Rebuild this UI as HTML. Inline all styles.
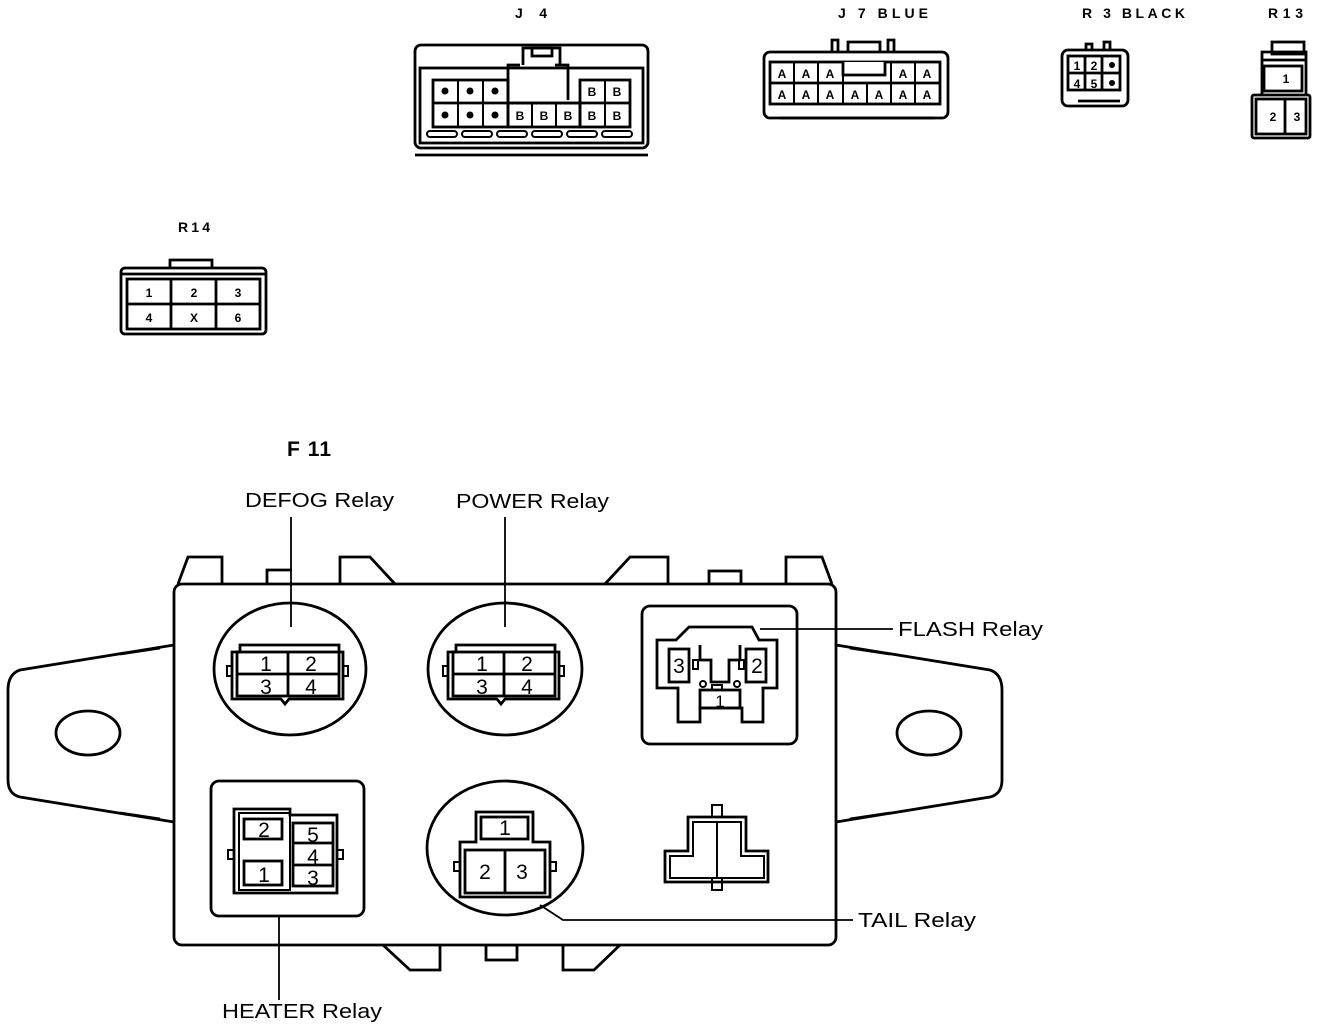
<!DOCTYPE html>
<html><head><meta charset="utf-8"><style>
html,body{margin:0;padding:0;background:#fff}
svg{display:block}
.t{font-family:"Liberation Sans",sans-serif;fill:#000}
.b{font-weight:bold;font-size:14px}
.p{font-family:"Liberation Sans",sans-serif;font-weight:bold;font-size:12px;text-anchor:middle}
.n{font-family:"Liberation Sans",sans-serif;font-size:21px;text-anchor:middle}
</style></head><body>
<svg width="1344" height="1028" viewBox="0 0 1344 1028" xmlns="http://www.w3.org/2000/svg" fill="none" stroke="#000" stroke-width="2.8">
<!-- labels top -->
<text class="t b" x="515" y="18" stroke="none" textLength="32" lengthAdjust="spacing">J 4</text>
<text class="t b" x="838" y="18" stroke="none" textLength="90" lengthAdjust="spacing">J 7 BLUE</text>
<text class="t b" x="1082" y="18" stroke="none" textLength="103" lengthAdjust="spacing">R 3 BLACK</text>
<text class="t b" x="1268" y="18" stroke="none" textLength="35" lengthAdjust="spacing">R13</text>
<text class="t b" x="178" y="232" stroke="none" textLength="32" lengthAdjust="spacing">R14</text>

<!-- J4 -->
<g>
<rect x="415" y="45" width="233" height="103" rx="6"/>
<rect x="420" y="68" width="223" height="75"/>
<path d="M523 65 V48 H560 V65"/><rect x="532" y="48" width="20" height="8"/>
<path d="M508 100 V65 H520 M555 65 H568 V100" />
<line x1="415" y1="155" x2="648" y2="155"/>
<rect x="433" y="80" width="75" height="47"/><line x1="433" y1="103" x2="630" y2="103"/>
<rect x="580" y="80" width="50" height="47"/><rect x="508" y="103" width="72" height="24"/>
<g stroke-width="2">
<line x1="458" y1="80" x2="458" y2="127"/><line x1="483" y1="80" x2="483" y2="127"/>
<line x1="532" y1="103" x2="532" y2="127"/><line x1="556" y1="103" x2="556" y2="127"/><line x1="605" y1="80" x2="605" y2="127"/>
</g>
<g fill="#000" stroke="none">
<circle cx="445" cy="91" r="3.5"/><circle cx="470" cy="91" r="3.5"/><circle cx="495" cy="91" r="3.5"/>
<circle cx="445" cy="115" r="3.5"/><circle cx="470" cy="115" r="3.5"/><circle cx="495" cy="115" r="3.5"/>
</g>
<g stroke="none" fill="#000">
<text class="p" x="592" y="96">B</text><text class="p" x="617" y="96">B</text>
<text class="p" x="520" y="120">B</text><text class="p" x="544" y="120">B</text><text class="p" x="568" y="120">B</text><text class="p" x="592" y="120">B</text><text class="p" x="617" y="120">B</text>
</g>
<g stroke-width="2">
<rect x="427" y="131" width="30" height="6" rx="3"/><rect x="462" y="131" width="30" height="6" rx="3"/><rect x="497" y="131" width="30" height="6" rx="3"/><rect x="532" y="131" width="30" height="6" rx="3"/><rect x="567" y="131" width="30" height="6" rx="3"/><rect x="602" y="131" width="30" height="6" rx="3"/>
</g>
</g>

<!-- J7 -->
<g>
<rect x="764" y="52" width="184" height="66" rx="6"/>
<path d="M832 52 V40 H838 V52 M848 52 V42 H880 V52 M888 52 V40 H894 V52"/>
<rect x="770" y="62" width="170" height="42"/>
<line x1="770" y1="83" x2="940" y2="83"/>
<path d="M843 62 V75 H885 V62" fill="#fff"/>
<g stroke-width="2">
<line x1="794" y1="62" x2="794" y2="104"/><line x1="818" y1="62" x2="818" y2="104"/><line x1="843" y1="75" x2="843" y2="104"/><line x1="867" y1="83" x2="867" y2="104"/><line x1="891" y1="62" x2="891" y2="104"/><line x1="915" y1="62" x2="915" y2="104"/>
</g>
<line x1="780" y1="118" x2="935" y2="118"/>
<g stroke="none" fill="#000">
<text class="p" x="782" y="78">A</text><text class="p" x="806" y="78">A</text><text class="p" x="830" y="78">A</text><text class="p" x="903" y="78">A</text><text class="p" x="927" y="78">A</text>
<text class="p" x="782" y="99">A</text><text class="p" x="806" y="99">A</text><text class="p" x="830" y="99">A</text><text class="p" x="855" y="99">A</text><text class="p" x="879" y="99">A</text><text class="p" x="903" y="99">A</text><text class="p" x="927" y="99">A</text>
</g>
</g>

<!-- R3 -->
<g>
<rect x="1062" y="50" width="66" height="56" rx="6"/>
<path d="M1086 50 V44 H1092 V50 M1104 50 V42 H1110 V50"/>
<rect x="1068" y="56" width="52" height="34"/>
<line x1="1068" y1="73" x2="1120" y2="73"/><line x1="1085" y1="56" x2="1085" y2="90"/><line x1="1102" y1="56" x2="1102" y2="90"/>
<line x1="1078" y1="101" x2="1120" y2="101"/>
<g stroke="none" fill="#000">
<text class="p" x="1077" y="70">1</text><text class="p" x="1094" y="70">2</text><circle cx="1112" cy="65" r="3"/>
<text class="p" x="1077" y="88">4</text><text class="p" x="1094" y="88">5</text><circle cx="1112" cy="83" r="3"/>
</g>
</g>

<!-- R13 -->
<g>
<rect x="1272" y="42" width="32" height="12"/>
<path d="M1262 95 V52 H1306 V95"/>
<line x1="1262" y1="60" x2="1306" y2="60"/>
<rect x="1264" y="66" width="38" height="25"/>
<rect x="1252" y="95" width="58" height="43" rx="2"/>
<rect x="1256" y="99" width="50" height="35"/><line x1="1285" y1="99" x2="1285" y2="134"/>
<g stroke="none" fill="#000"><text class="p" x="1286" y="83">1</text><text class="p" x="1273" y="121">2</text><text class="p" x="1297" y="121">3</text></g>
</g>

<!-- R14 -->
<g>
<rect x="121" y="268" width="145" height="66" rx="4"/>
<path d="M170 268 V260 H212 V268" />
<line x1="121" y1="274" x2="266" y2="274"/>
<rect x="127" y="279" width="133" height="50"/><line x1="127" y1="304" x2="260" y2="304"/>
<line x1="171" y1="279" x2="171" y2="329"/><line x1="216" y1="279" x2="216" y2="329"/>
<g stroke="none" fill="#000"><text class="p" x="149" y="297">1</text><text class="p" x="194" y="297">2</text><text class="p" x="238" y="297">3</text>
<text class="p" x="149" y="322">4</text><text class="p" x="194" y="322">X</text><text class="p" x="238" y="322">6</text></g>
</g>

<!-- F11 -->
<text class="t" x="287" y="456" stroke="none" style="font-size:21px;font-weight:bold" textLength="44" lengthAdjust="spacing">F 11</text>
<g stroke="none" fill="#000" class="t" style="font-size:20px">
<text x="245" y="507" textLength="149" lengthAdjust="spacingAndGlyphs">DEFOG Relay</text>
<text x="456" y="508" textLength="153" lengthAdjust="spacingAndGlyphs">POWER Relay</text>
<text x="898" y="636" textLength="145" lengthAdjust="spacingAndGlyphs">FLASH Relay</text>
<text x="858" y="927" textLength="118" lengthAdjust="spacingAndGlyphs">TAIL Relay</text>
<text x="222" y="1018" textLength="160" lengthAdjust="spacingAndGlyphs">HEATER Relay</text>
</g>

<!-- ears -->
<path d="M174 645 L20 670 Q8 674 8 690 V780 Q8 794 20 797 L174 822" />
<path d="M160 648 L120 654 M160 819 L120 813" />
<ellipse cx="88" cy="733" rx="32" ry="22"/>
<path d="M836 645 L990 670 Q1002 674 1002 690 V780 Q1002 794 990 797 L836 822"/>
<path d="M850 648 L890 654 M850 819 L890 813"/>
<ellipse cx="929" cy="733" rx="32" ry="22"/>

<!-- top tabs -->
<path d="M178 584 L188 557 H222 V584"/>
<path d="M267 584 V570 H292"/>
<path d="M340 584 V557 H370 L395 584"/>
<path d="M605 584 L630 557 H668 V584"/>
<rect x="709" y="571" width="32" height="13"/>
<path d="M786 584 V557 H822 L832 584"/>
<!-- bottom tabs -->
<path d="M383 945 L410 970 H440 V945"/>
<rect x="486" y="945" width="31" height="15"/>
<path d="M563 945 V970 H594 L620 945"/>

<!-- body -->
<rect x="174" y="584" width="662" height="361" rx="8" fill="#fff"/>

<!-- DEFOG -->
<ellipse cx="290" cy="669" rx="76" ry="66"/>
<g>
<path d="M232 652 V699 H281 L285 704 L289 699 H343 V652 H339 V645 H240 V652 Z" fill="#fff"/>
<rect x="237" y="652" width="102" height="44"/>
<line x1="237" y1="674" x2="339" y2="674"/><line x1="288" y1="652" x2="288" y2="696"/>
<rect x="227" y="666" width="5" height="10" stroke-width="2"/><rect x="343" y="666" width="5" height="10" stroke-width="2"/>
</g>
<g stroke="none" fill="#000"><text class="n" x="266" y="671">1</text><text class="n" x="311" y="671">2</text><text class="n" x="266" y="694">3</text><text class="n" x="311" y="694">4</text></g>
<!-- POWER -->
<g transform="translate(216,0)">
<path d="M232 652 V699 H281 L285 704 L289 699 H343 V652 H339 V645 H240 V652 Z" fill="#fff"/>
<rect x="237" y="652" width="102" height="44"/>
<line x1="237" y1="674" x2="339" y2="674"/><line x1="288" y1="652" x2="288" y2="696"/>
<rect x="227" y="666" width="5" height="10" stroke-width="2"/><rect x="343" y="666" width="5" height="10" stroke-width="2"/>
</g>
<ellipse cx="505" cy="669" rx="77" ry="66"/>
<g stroke="none" fill="#000"><text class="n" x="482" y="671">1</text><text class="n" x="527" y="671">2</text><text class="n" x="482" y="694">3</text><text class="n" x="527" y="694">4</text></g>

<!-- FLASH -->
<rect x="642" y="606" width="155" height="138" rx="8"/>
<path d="M657 640 H676 L689 627 H752 L759 640 H777 V688 H763 V722 H742 V708 H700 V722 H678 V688 H657 Z"/>
<rect x="669" y="649" width="20" height="33"/><rect x="746" y="649" width="20" height="33"/>
<path d="M700 645 V660 H711 V682 H729 V660 H740 V645"/>
<rect x="693" y="660" width="5" height="9" stroke-width="2"/><rect x="739" y="660" width="5" height="9" stroke-width="2"/>
<circle cx="703" cy="684" r="3" stroke-width="2"/><circle cx="737" cy="684" r="3" stroke-width="2"/>
<rect x="700" y="690" width="40" height="18"/><rect x="712" y="685" width="10" height="5" stroke-width="2"/>
<g stroke="none" fill="#000"><text class="n" x="679" y="673">3</text><text class="n" x="757" y="673">2</text><text class="n" x="720" y="707" style="font-size:17px">1</text></g>

<!-- HEATER -->
<rect x="211" y="781" width="153" height="135" rx="8"/>
<path d="M234 809 H290 V815 H337 V893 H234 Z"/>
<rect x="239" y="813" width="51" height="77" stroke-width="2"/>
<rect x="244" y="819" width="38" height="20"/><rect x="244" y="861" width="38" height="24"/>
<rect x="293" y="823" width="40" height="63"/>
<line x1="293" y1="843" x2="333" y2="843"/><line x1="293" y1="865" x2="333" y2="865"/>
<rect x="228" y="850" width="6" height="9" stroke-width="2"/><rect x="337" y="850" width="6" height="9" stroke-width="2"/>
<g stroke="none" fill="#000"><text class="n" x="264" y="837">2</text><text class="n" x="264" y="882">1</text><text class="n" x="313" y="842">5</text><text class="n" x="313" y="864">4</text><text class="n" x="313" y="885">3</text></g>

<!-- TAIL -->
<ellipse cx="505" cy="848" rx="78" ry="67"/>
<path d="M476 812 V842 H460 V897 H550 V842 H533 V812 Z"/>
<rect x="481" y="817" width="47" height="22"/>
<rect x="465" y="850" width="80" height="43"/><line x1="505" y1="850" x2="505" y2="893"/>
<rect x="454" y="862" width="6" height="9" stroke-width="2"/><rect x="550" y="862" width="6" height="9" stroke-width="2"/>
<g stroke="none" fill="#000"><text class="n" x="505" y="835">1</text><text class="n" x="485" y="879">2</text><text class="n" x="522" y="879">3</text></g>

<!-- bottom right connector -->
<rect x="712" y="805" width="10" height="12" stroke-width="2"/><rect x="712" y="878" width="10" height="12" stroke-width="2"/>
<path d="M688 817 H746 V851 H768 V882 H665 V851 H688 Z"/>
<path d="M693 822 H741 V856 H764 V878 H670 V856 H693 Z" stroke-width="2"/>
<line x1="717" y1="822" x2="717" y2="878" stroke-width="2"/>

<!-- leaders -->
<g stroke-width="1.8">
<line x1="291" y1="517" x2="291" y2="627"/>
<line x1="505" y1="517" x2="505" y2="627"/>
<line x1="760" y1="629" x2="893" y2="629"/>
<path d="M540 905 L563 920 H853"/>
<line x1="279" y1="916" x2="279" y2="1000"/>
</g>
</svg>
</body></html>
